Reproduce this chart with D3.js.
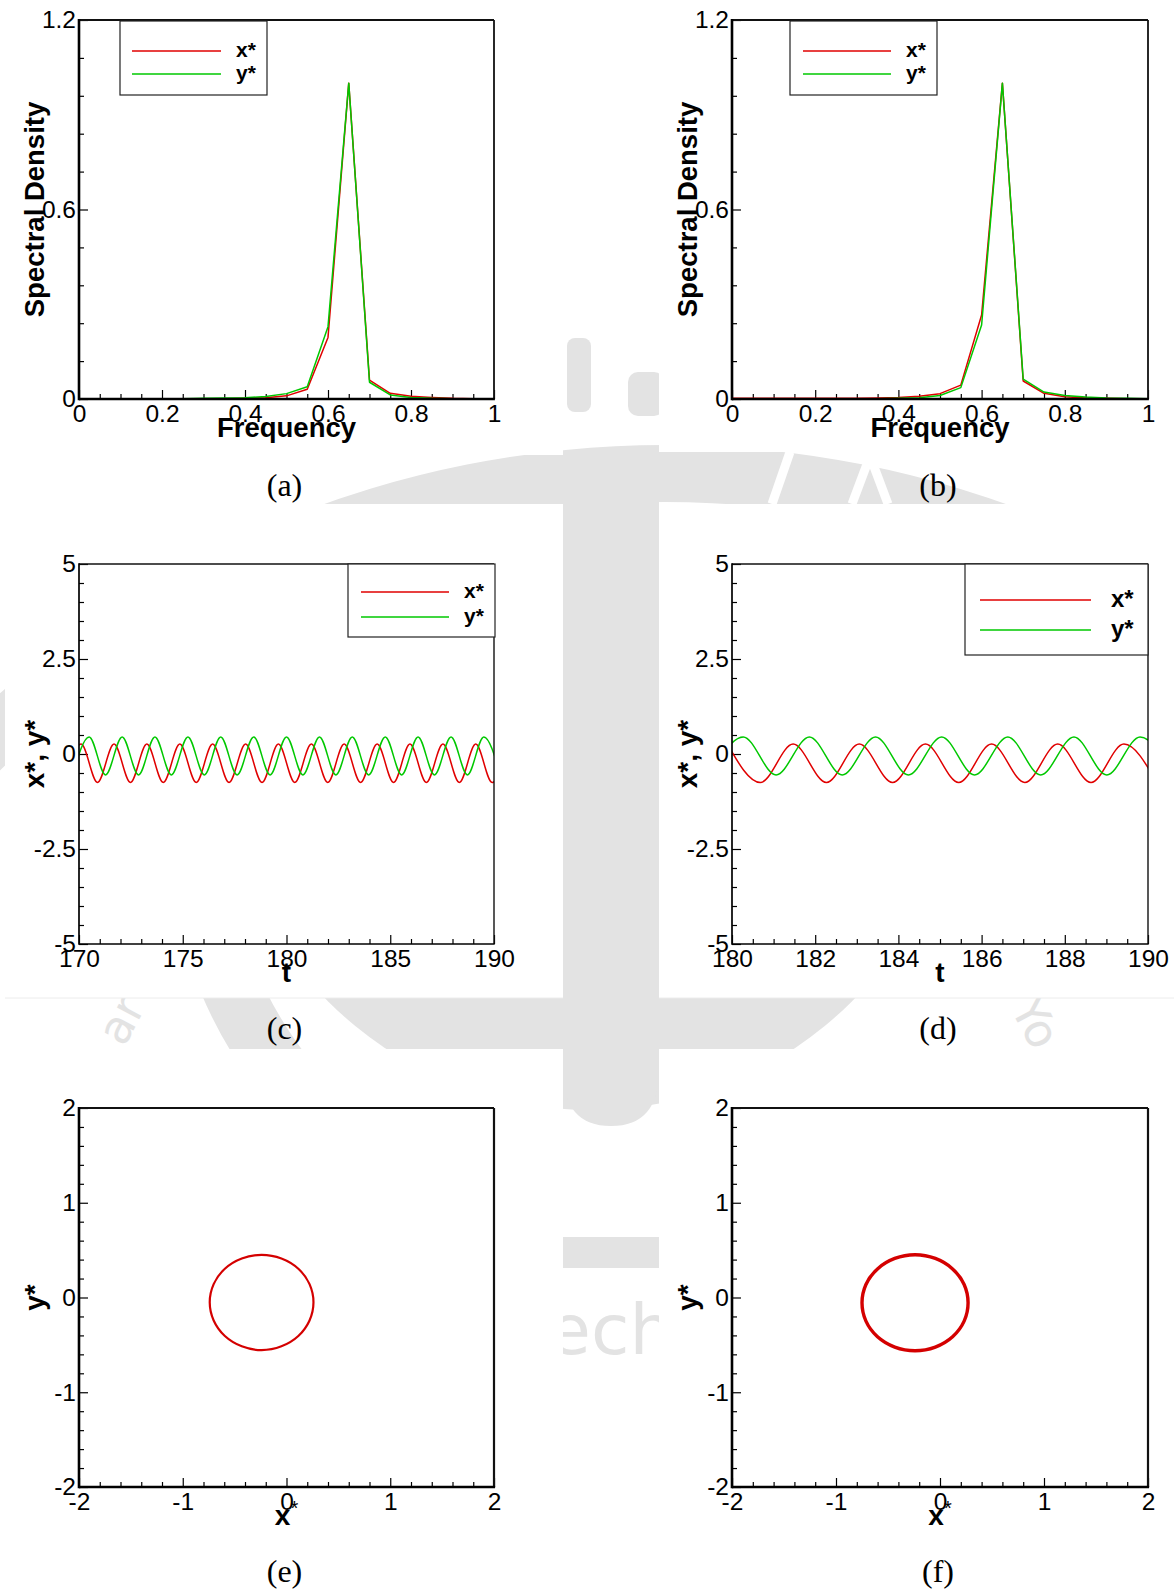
<!DOCTYPE html>
<html><head><meta charset="utf-8">
<script src="https://cdn.jsdelivr.net/npm/d3@7"></script>
<style>html,body{margin:0;padding:0;background:#fff}svg{display:block}</style>
</head><body>
<svg id="fig" width="1174" height="1590"></svg>
<script>
// ---- spectra (a), (b): frequency bins and normalised spectral density ----
const freq = [0,0.05,0.1,0.15,0.2,0.25,0.3,0.35,0.4,0.45,0.5,0.55,0.6,0.65,0.7,0.75,0.8,0.85,0.9,0.95,1];
const psdXa = [0,0,0,0,0,0,0.001,0.001,0.002,0.004,0.010,0.031,0.195,1.0,0.060,0.018,0.009,0.005,0.002,0.001,0.001];
const psdYa = [0.001,0.001,0.001,0.001,0.001,0.001,0.002,0.003,0.004,0.008,0.017,0.039,0.229,1.0,0.053,0.013,0.005,0.002,0.001,0.001,0];
const psdXb = [0.002,0.002,0.002,0.002,0.002,0.002,0.002,0.003,0.005,0.009,0.017,0.044,0.266,1.0,0.057,0.018,0.007,0.003,0.002,0.001,0.001];
const psdYb = [0,0,0,0,0,0,0.001,0.001,0.002,0.004,0.011,0.036,0.234,1.0,0.063,0.022,0.011,0.006,0.003,0.002,0.001];

// ---- time histories (c), (d): successive peaks / troughs of x* and y* ----
const tXc = [169.31,170.10,170.89,171.69,172.48,173.27,174.06,174.86,175.65,176.44,177.23,178.03,178.82,179.61,180.40,181.20,181.99,182.78,183.57,184.37,185.16,185.95,186.74,187.54,188.33,189.12,189.91,190.70];
const vXc = [-0.75,0.26,-0.75,0.26,-0.75,0.26,-0.75,0.26,-0.75,0.26,-0.75,0.26,-0.75,0.26,-0.75,0.26,-0.75,0.26,-0.75,0.26,-0.75,0.26,-0.75,0.26,-0.75,0.26,-0.75,0.26];
const tYc = [169.70,170.49,171.28,172.08,172.87,173.66,174.45,175.25,176.04,176.83,177.62,178.42,179.21,180.00,180.79,181.59,182.38,183.17,183.96,184.76,185.55,186.34,187.13,187.93,188.72,189.51,190.30];
const vYc = [-0.55,0.45,-0.55,0.45,-0.55,0.45,-0.55,0.45,-0.55,0.45,-0.55,0.45,-0.55,0.45,-0.55,0.45,-0.55,0.45,-0.55,0.45,-0.55,0.45,-0.55,0.45,-0.55,0.45,-0.55];
const tXd = [179.89,180.68,181.47,182.27,183.06,183.86,184.65,185.45,186.24,187.04,187.83,188.63,189.42,190.21];
const vXd = [0.26,-0.75,0.26,-0.75,0.26,-0.75,0.26,-0.75,0.26,-0.75,0.26,-0.75,0.26,-0.75];
const tYd = [179.48,180.27,181.06,181.86,182.65,183.45,184.24,185.04,185.83,186.63,187.42,188.22,189.01,189.81,190.60];
const vYd = [-0.55,0.45,-0.55,0.45,-0.55,0.45,-0.55,0.45,-0.55,0.45,-0.55,0.45,-0.55,0.45,-0.55];

// ---- phase portraits (e), (f): closed orbit in the (x*, y*) plane ----
const orbitXe = [0.26,0.222,0.114,-0.049,-0.24,-0.431,-0.594,-0.702,-0.74,-0.702,-0.594,-0.431,-0.24,-0.049,0.114,0.222];
const orbitYe = [-0.05,0.141,0.304,0.412,0.45,0.412,0.304,0.141,-0.05,-0.242,-0.406,-0.515,-0.555,-0.515,-0.406,-0.242];
const orbitXf = [0.27,0.232,0.121,-0.045,-0.24,-0.435,-0.601,-0.712,-0.75,-0.712,-0.601,-0.435,-0.24,-0.045,0.121,0.232];
const orbitYf = [-0.055,0.138,0.302,0.412,0.451,0.412,0.302,0.138,-0.055,-0.249,-0.414,-0.523,-0.562,-0.523,-0.414,-0.249];

// ---- axis ticks and labels ----
const freqTicks = [0,0.2,0.4,0.6,0.8,1];
const psdTicks = [0,0.6,1.2];
const tTicksC = [170,175,180,185,190];
const tTicksD = [180,182,184,186,188,190];
const dispTicks = [-5,-2.5,0,2.5,5];
const orbitTicks = [-2,-1,0,1,2];
const seriesNames = ["x*","y*"];
const captions = ["(a)","(b)","(c)","(d)","(e)","(f)"];

const RED = "#e00000", GREEN = "#00c800";
const SANS = "'Liberation Sans', Arial, Helvetica, sans-serif";
const SERIF = "'Liberation Serif', 'Times New Roman', serif";
const WM = "#e3e3e3";

const zip = (a, b) => a.map((v, i) => [v, b[i]]);
const svg = d3.select("#fig");

// ---- faint page watermark behind the sub-figures ----
const wm = svg.append("g").attr("fill", WM);
wm.append("path")   // outer seal band
  .attr("d", d3.arc().innerRadius(958).outerRadius(1015).startAngle(-Math.PI / 2).endAngle(Math.PI / 2)())
  .attr("transform", "translate(665,1460)");
wm.append("path")   // lower bowl of the emblem
  .attr("d", d3.arc().innerRadius(0).outerRadius(370).startAngle(Math.PI / 2).endAngle(3 * Math.PI / 2)())
  .attr("transform", "translate(590,740)");
wm.append("path")   // side stroke of the emblem
  .attr("d", d3.arc().innerRadius(385).outerRadius(445).startAngle(-2.6).endAngle(-1.9)())
  .attr("transform", "translate(611,820)");
wm.append("path")   // central stem
  .attr("d", "M563,452 L659,452 L659,1070 Q659,1126 611,1126 Q563,1126 563,1070 Z");
wm.append("rect").attr("x", 563).attr("y", 1237).attr("width", 96).attr("height", 31);
wm.append("text").attr("x", 517).attr("y", 1354)
  .attr("font-family", "'DejaVu Sans', sans-serif").attr("font-size", 70)
  .text("Tech");
wm.append("rect").attr("x", 567).attr("y", 338).attr("width", 24).attr("height", 74).attr("rx", 8);
wm.append("rect").attr("x", 628).attr("y", 372).attr("width", 36).attr("height", 44).attr("rx", 10);
wm.append("text").attr("transform", "translate(124,1048) rotate(-62)")
  .attr("font-family", "'DejaVu Sans', sans-serif").attr("font-size", 46).text("ar");
wm.append("text").attr("transform", "translate(1010,1008) rotate(62)")
  .attr("font-family", "'DejaVu Sans', sans-serif").attr("font-size", 46).text("Yo");
// lettering cut into the seal band
wm.append("path").attr("d", "M790,452 L772,504 M852,504 L870,456 L888,504")
  .attr("fill", "none").attr("stroke", "#fff").attr("stroke-width", 9);

// sub-figure image backgrounds (opaque)
const IMG = [[5, 0, 563, 455], [659, 0, 1174, 452], [5, 504, 563, 998], [659, 504, 1174, 998], [5, 1049, 563, 1545], [659, 1049, 1174, 1545]];
IMG.forEach(r => svg.append("rect").attr("x", r[0]).attr("y", r[1]).attr("width", r[2] - r[0]).attr("height", r[3] - r[1]).attr("fill", "#fff"));
[[5, 563], [659, 1174]].forEach(c => svg.append("line").attr("x1", c[0]).attr("x2", c[1]).attr("y1", 998).attr("y2", 998).attr("stroke", "#ececec").attr("stroke-width", 1));

function minorTicks(lo, hi, step, major) {
  return d3.range(lo, hi + step / 2, step)
    .map(v => +v.toFixed(6))
    .filter(v => !major.some(m => Math.abs(m - v) < 1e-6));
}

function panel(cfg) {
  const [L, T, R, B] = cfg.frame;
  const x = d3.scaleLinear().domain(cfg.xDomain).range([L, R]);
  const y = d3.scaleLinear().domain(cfg.yDomain).range([B, T]);
  const g = svg.append("g");

  const clipId = "clip-" + cfg.id;
  g.append("clipPath").attr("id", clipId)
    .append("rect").attr("x", L).attr("y", T).attr("width", R - L).attr("height", B - T);

  // inward-pointing ticks on the bottom and left axes
  const styleAxis = sel => {
    sel.select(".domain").remove();
    sel.selectAll(".tick line").attr("stroke", "#000").attr("stroke-width", 1.2);
    sel.selectAll("text").attr("fill", "#000").attr("font-family", SANS).attr("font-size", 24.5);
  };
  g.append("g").attr("transform", `translate(0,${B})`)
    .call(d3.axisBottom(x).tickValues(minorTicks(cfg.xDomain[0], cfg.xDomain[1], cfg.xMinor, cfg.xTicks)).tickSize(-5).tickFormat(""))
    .call(styleAxis);
  g.append("g").attr("transform", `translate(0,${B})`)
    .call(d3.axisBottom(x).tickValues(cfg.xTicks).tickSize(-9).tickPadding(6).tickFormat(String))
    .call(styleAxis);
  g.append("g").attr("transform", `translate(${L},0)`)
    .call(d3.axisLeft(y).tickValues(minorTicks(cfg.yDomain[0], cfg.yDomain[1], cfg.yMinor, cfg.yTicks)).tickSize(-5).tickFormat(""))
    .call(styleAxis);
  g.append("g").attr("transform", `translate(${L},0)`)
    .call(d3.axisLeft(y).tickValues(cfg.yTicks).tickSize(-9).tickPadding(3).tickFormat(String))
    .call(styleAxis);

  // data
  const plot = g.append("g").attr("clip-path", `url(#${clipId})`);
  cfg.series.forEach(s => {
    plot.append("path")
      .attr("d", d3.line().x(d => x(d[0])).y(d => y(d[1])).curve(s.curve)(s.data))
      .attr("fill", "none").attr("stroke", s.color).attr("stroke-width", s.width)
      .attr("stroke-linejoin", "round");
  });

  // frame
  const fw = cfg.frameWidth;
  g.append("line").attr("x1", L).attr("x2", R).attr("y1", T).attr("y2", T).attr("stroke", "#111").attr("stroke-width", fw[1]);
  g.append("line").attr("x1", R).attr("x2", R).attr("y1", T).attr("y2", B).attr("stroke", "#111").attr("stroke-width", fw[1]);
  g.append("line").attr("x1", L).attr("x2", R + fw[1] / 2).attr("y1", B).attr("y2", B).attr("stroke", "#000").attr("stroke-width", fw[0]);
  g.append("line").attr("x1", L).attr("x2", L).attr("y1", T - fw[1] / 2).attr("y2", B + fw[0] / 2).attr("stroke", "#000").attr("stroke-width", fw[0]);

  // legend
  if (cfg.legend) {
    const lg = cfg.legend;
    g.append("rect").attr("x", lg.box[0]).attr("y", lg.box[1])
      .attr("width", lg.box[2] - lg.box[0]).attr("height", lg.box[3] - lg.box[1])
      .attr("fill", "#fff").attr("stroke", "#222").attr("stroke-width", 1.2);
    cfg.series.forEach((s, i) => {
      g.append("line").attr("x1", lg.line[0]).attr("x2", lg.line[1])
        .attr("y1", lg.rows[i]).attr("y2", lg.rows[i])
        .attr("stroke", s.color).attr("stroke-width", 1.5);
      g.append("text").attr("x", lg.textX).attr("y", lg.rows[i] + lg.size * 0.28)
        .attr("font-family", SANS).attr("font-weight", "bold").attr("font-size", lg.size)
        .text(seriesNames[i]);
    });
  }

  // axis titles
  const xt = g.append("text").attr("x", (L + R) / 2).attr("y", B + 38)
    .attr("text-anchor", "middle").attr("font-family", SANS).attr("font-weight", "bold")
    .attr("font-size", cfg.xTitleSize);
  if (cfg.xTitleStar) {
    xt.append("tspan").text(cfg.xTitle);
    xt.append("tspan").attr("font-weight", "normal").attr("font-size", 20).attr("dy", -10).text("*");
  } else xt.text(cfg.xTitle);
  g.append("text").attr("transform", `translate(${L - 35},${(T + B) / 2}) rotate(-90)`)
    .attr("text-anchor", "middle").attr("font-family", SANS).attr("font-weight", "bold")
    .attr("font-size", cfg.yTitleSize).text(cfg.yTitle);

  // sub-figure caption
  g.append("text").attr("x", (L + R) / 2 - 2).attr("y", cfg.captionY)
    .attr("text-anchor", "middle").attr("font-family", SERIF).attr("font-size", 32)
    .text(cfg.caption);
}

const COLS = [[79, 494], [732, 1148]];
const ROWS = [[20, 399], [564, 944], [1108, 1487]];
const CAPY = [496, 1039, 1582];

const specLegend = col => ({
  box: col === 0 ? [120, 21, 267, 95] : [790, 21, 937, 95],
  line: col === 0 ? [132, 221] : [803, 891],
  rows: [51, 74], textX: col === 0 ? 236 : 906, size: 21
});

// (a) and (b): spectra
[[psdXa, psdYa], [psdXb, psdYb]].forEach((pair, c) => panel({
  id: "s" + c, frame: [COLS[c][0], ROWS[0][0], COLS[c][1], ROWS[0][1]],
  xDomain: [0, 1], yDomain: [0, 1.2], xTicks: freqTicks, yTicks: psdTicks, xMinor: 0.05, yMinor: 0.12,
  frameWidth: [2.6, 1.8],
  series: [
    { data: zip(freq, pair[0]), color: RED, width: 1.5, curve: d3.curveLinear },
    { data: zip(freq, pair[1]), color: GREEN, width: 1.5, curve: d3.curveLinear }
  ],
  legend: specLegend(c),
  xTitle: "Frequency", xTitleSize: 27.5, yTitle: "Spectral Density", yTitleSize: 27.5,
  caption: captions[c], captionY: CAPY[0]
}));

// (c): time history 170-190
panel({
  id: "tc", frame: [COLS[0][0], ROWS[1][0], COLS[0][1], ROWS[1][1]],
  xDomain: [170, 190], yDomain: [-5, 5], xTicks: tTicksC, yTicks: dispTicks, xMinor: 1, yMinor: 0.5,
  frameWidth: [1.7, 1.4],
  series: [
    { data: zip(tXc, vXc), color: RED, width: 1.5, curve: d3.curveMonotoneX },
    { data: zip(tYc, vYc), color: GREEN, width: 1.5, curve: d3.curveMonotoneX }
  ],
  legend: { box: [348, 564, 495, 637], line: [361, 449], rows: [592, 617], textX: 464, size: 21 },
  xTitle: "t", xTitleSize: 28, yTitle: "x*, y*", yTitleSize: 28,
  caption: captions[2], captionY: CAPY[1]
});

// (d): time history 180-190
panel({
  id: "td", frame: [COLS[1][0], ROWS[1][0], COLS[1][1], ROWS[1][1]],
  xDomain: [180, 190], yDomain: [-5, 5], xTicks: tTicksD, yTicks: dispTicks, xMinor: 0.5, yMinor: 0.5,
  frameWidth: [1.7, 1.4],
  series: [
    { data: zip(tXd, vXd), color: RED, width: 1.5, curve: d3.curveMonotoneX },
    { data: zip(tYd, vYd), color: GREEN, width: 1.5, curve: d3.curveMonotoneX }
  ],
  legend: { box: [965, 564, 1148, 655], line: [980, 1091], rows: [600, 630], textX: 1111, size: 24 },
  xTitle: "t", xTitleSize: 28, yTitle: "x*, y*", yTitleSize: 28,
  caption: captions[3], captionY: CAPY[1]
});

// (e), (f): phase portraits
[[orbitXe, orbitYe, 2.2], [orbitXf, orbitYf, 3.4]].forEach((o, c) => panel({
  id: "o" + c, frame: [COLS[c][0], ROWS[2][0], COLS[c][1], ROWS[2][1]],
  xDomain: [-2, 2], yDomain: [-2, 2], xTicks: orbitTicks, yTicks: orbitTicks, xMinor: 0.2, yMinor: 0.2,
  frameWidth: [2.6, 2.2],
  series: [{ data: zip(o[0], o[1]), color: "#d40000", width: o[2], curve: d3.curveCatmullRomClosed }],
  xTitle: "x", xTitleStar: true, xTitleSize: 28, yTitle: "y*", yTitleSize: 28,
  caption: captions[4 + c], captionY: CAPY[2]
}));
</script>
</body></html>
